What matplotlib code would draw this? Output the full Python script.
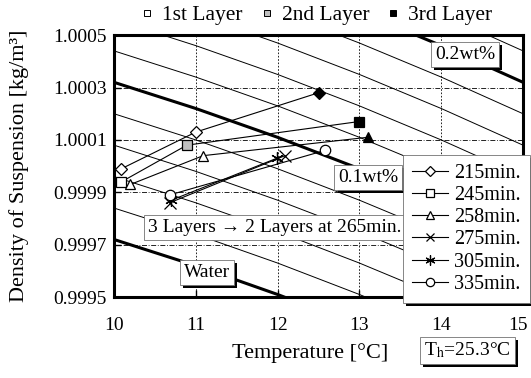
import matplotlib
matplotlib.use("Agg")
import matplotlib.pyplot as plt
import matplotlib.patheffects as pe
import matplotlib.transforms as mtransforms
from matplotlib.lines import Line2D
import numpy as np

plt.rcParams['font.family'] = ['Liberation Serif', 'DejaVu Serif']
plt.rcParams['mathtext.fontset'] = 'stix'

# density of water at whole degrees, and offsets of the iso-concentration lines
temps = [10, 11, 12, 13, 14, 15]
water = [0.99972, 0.99962, 0.99951, 0.99939, 0.99926, 0.99912]
line_offsets = [0.0, 0.00012, 0.00024, 0.00036, 0.00048, 0.00060,
                0.00072, 0.00084, 0.00096, 0.00108, 0.00120, 0.00132]
bold_offsets = [0.0, 0.00060, 0.00120]   # water, 0.1wt%, 0.2wt%

# measured layers (1st, 2nd, 3rd) for each elapsed time
times = ['215min.', '245min.', '258min.', '275min.', '305min.', '335min.']
t215 = [10.09, 11.00, 12.50]
r215 = [0.99999, 1.00013, 1.00028]
t245 = [10.09, 10.89, 12.99]
r245 = [0.99994, 1.00008, 1.00017]
t258 = [10.20, 11.09, 13.10]
r258 = [0.99993, 1.00004, 1.00011]
t275 = [10.68, 12.09]
r275 = [0.99986, 1.00004]
t305 = [10.70, 11.99]
r305 = [0.99987, 1.00003]
t335 = [10.68, 12.58]
r335 = [0.99989, 1.00006]

series_t = [t215, t245, t258, t275, t305, t335]
series_r = [r215, r245, r258, r275, r305, r335]
markers = ['D', 's', '^', 'x', (6, 2, 0), 'o']
msizes = [6, 7.5, 7.5, 8, 9, 7.5]
layer_fill = ['white', '0.75', 'black']

xticks = [10, 11, 12, 13, 14, 15]
yticks = [0.9995, 0.9997, 0.9999, 1.0001, 1.0003, 1.0005]

fig = plt.figure(figsize=(5.31, 3.78), dpi=100)
ax = fig.add_axes([0.2147, 0.214, 0.7703, 0.693])

tt = np.array(temps)
ww = np.array(water)
for off in line_offsets:
    bold = off in bold_offsets
    ax.plot(tt, ww + off, color='k', lw=2.2 if bold else 0.7, zorder=1)

for i, (ts, rs) in enumerate(zip(series_t, series_r)):
    ax.plot(ts, rs, color='k', lw=0.8, zorder=3)
    for j, (t, r) in enumerate(zip(ts, rs)):
        fill = layer_fill[j]
        # only the square of the 2nd layer is shaded
        if j == 1 and markers[i] != 's':
            fill = 'white'
        ax.plot(t, r, marker=markers[i], ms=msizes[i], mfc=fill, mec='k',
                mew=0.9, color='k', zorder=4)

ax.set_xlim(10, 15)
ax.set_ylim(0.9995, 1.0005)
ax.set_xticks(xticks)
ax.set_yticks(yticks)
ax.set_yticklabels(['%.4f' % v for v in yticks])
ax.tick_params(direction='in', length=5, width=1, labelsize=14, colors='k')
ax.tick_params(axis='x', pad=14)
ax.tick_params(axis='y', pad=5)
# keep the last temperature label inside the figure
last = ax.get_xticklabels()[-1]
last.set_transform(last.get_transform() +
                   mtransforms.ScaledTranslation(-5 / 100, 0, fig.dpi_scale_trans))
ax.xaxis.grid(True, color='k', lw=0.6, ls=(0, (2, 2)))
ax.yaxis.grid(True, color='k', lw=0.6, ls=(0, (6, 2, 1, 2)))
ax.set_axisbelow(True)
for sp in ax.spines.values():
    sp.set_linewidth(2.2)

ax.set_xlabel('Temperature [°C]', fontsize=16, va='center')
ax.xaxis.set_label_coords(0.479, -0.214)
ax.set_ylabel('Density of Suspension [kg/m³]', fontsize=16, va='center')
ax.yaxis.set_label_coords(-0.232, 0.5)


def boxed(x, y, s, shadow=True, fs=14):
    t = ax.text(x, y, s, ha='center', va='center', fontsize=fs, zorder=6,
                clip_on=False,
                bbox=dict(boxstyle='square,pad=0.2', fc='white', ec='0.45', lw=0.6))
    if shadow:
        t.get_bbox_patch().set_path_effects(
            [pe.SimplePatchShadow(offset=(2.2, -2.2), shadow_rgbFace='k', alpha=1.0),
             pe.Normal()])
    return t


boxed(14.29, 1.000427, '0.2wt%')
boxed(13.11, 0.999958, '0.1wt%')
boxed(11.96, 0.999767, '3 Layers → 2 Layers at 265min.', shadow=False)
boxed(11.14, 0.999595, 'Water')
boxed(14.32, 0.999297, r'T$_\mathrm{h}$=25.3°C')

# series legend on the right
handles = [Line2D([], [], color='k', lw=0.8, marker=m, ms=s * 0.8, mfc='white',
                  mec='k', mew=0.9) for m, s in zip(markers, msizes)]
leg = fig.legend(handles, times, loc='upper left', bbox_to_anchor=(0.759, 0.59),
                 fontsize=14.5, handlelength=1.8, handletextpad=0.3,
                 labelspacing=0.15, borderpad=0.45, borderaxespad=0,
                 fancybox=False, framealpha=1, edgecolor='0.45')
leg.get_frame().set_linewidth(0.6)
leg.get_frame().set_path_effects(
    [pe.SimplePatchShadow(offset=(2.0, -2.0), shadow_rgbFace='k', alpha=1.0), pe.Normal()])
leg.set_zorder(7)

# layer legend on top
layer_handles = [Line2D([], [], ls='none', marker='s', ms=5, mfc=f, mec='k', mew=0.7)
                 for f in layer_fill]
fig.legend(layer_handles, ['1st Layer', '2nd Layer', '3rd Layer'], loc='center',
           bbox_to_anchor=(0.596, 0.96), ncol=3, frameon=False, fontsize=15.5,
           handlelength=0.6, handletextpad=0.4, columnspacing=0.8, borderaxespad=0)

fig.savefig('out.png', dpi=100)
